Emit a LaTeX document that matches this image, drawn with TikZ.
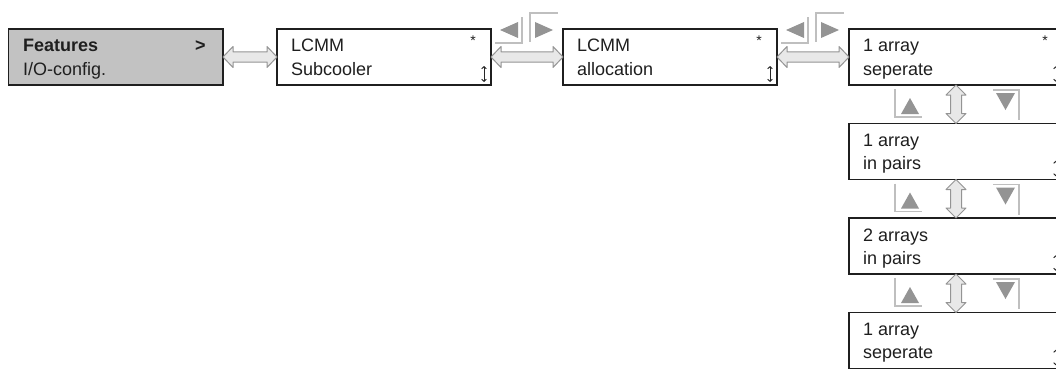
\documentclass[tikz,border=0pt]{standalone}
\usepackage{fontspec}
\setmainfont{Liberation Sans}
\usetikzlibrary{calc,arrows.meta}
\newcommand\dblH[2]{\path[dbl] let \p1=(#1), \p2=(#2) in
  (\x1,\y1) -- (\x1+10pt,\y1+10.5pt) -- (\x1+10pt,\y1+5pt) -- (\x2-10pt,\y1+5pt) -- (\x2-10pt,\y1+10.5pt) -- (\x2,\y1)
  -- (\x2-10pt,\y1-10.5pt) -- (\x2-10pt,\y1-5pt) -- (\x1+10pt,\y1-5pt) -- (\x1+10pt,\y1-10.5pt) -- cycle;}
\newcommand\dblV[2]{\path[dbl] let \p1=(#1), \p2=(#2) in
  (\x1,\y1) -- (\x1+10pt,\y1-10pt) -- (\x1+5.5pt,\y1-10pt) -- (\x1+5.5pt,\y2+10pt) -- (\x1+10pt,\y2+10pt) -- (\x1,\y2)
  -- (\x1-10pt,\y2+10pt) -- (\x1-5.5pt,\y2+10pt) -- (\x1-5.5pt,\y1-10pt) -- (\x1-10pt,\y1-10pt) -- cycle;}
\newcommand\lrkeys[1]{\begin{scope}[shift={(#1.north east)}]
  \draw[keyline] (4,14) -- (31,14) -- (31,-12);
  \fill[keytri] (9,1) -- (27,-7) -- (27,9) -- cycle;
  \draw[keyline] (39,13) -- (39,-16) -- (67,-16);
  \fill[keytri] (62,1) -- (44,-7) -- (44,9) -- cycle;
\end{scope}}
\newcommand\udkeys[1]{\begin{scope}[shift={(#1.south west)}]
  \draw[keyline] (46,4) -- (46,32) -- (73,32);
  \fill[keytri] (52,29) -- (70,29) -- (61,13) -- cycle;
  \draw[keyline] (144,5) -- (170,5) -- (170,35);
  \fill[keytri] (147,8) -- (166,8) -- (156.5,25) -- cycle;
\end{scope}}
\newcommand\boxmarks[2]{%
  \ifx#2y\node[starmark] at ($(#1.north east)+(-18,12)$) {*};\fi
  \draw[updown] ($(#1.north east)+(-7,37)$) -- ($(#1.north east)+(-7,53)$);}
\begin{document}
\begin{tikzpicture}[x=1pt,y=-1pt,
  menubox/.style={draw=black!88, line width=1.8pt, fill=white, minimum width=214pt, minimum height=56pt,
    inner sep=0pt, outer sep=0pt, anchor=north west},
  txt/.style={anchor=base west, inner sep=0pt, font=\fontsize{18}{22}\selectfont, text=black!88},
  dbl/.style={draw=black!42, fill=black!9, line width=1pt, line join=round},
  keyline/.style={draw=black!25, line width=1.4pt},
  keytri/.style={fill=black!42},
  starmark/.style={inner sep=0pt, font=\fontsize{14}{14}\selectfont, text=black!88},
  updown/.style={{Straight Barb[length=2.2pt,width=4.5pt]}-{Straight Barb[length=2.2pt,width=4.5pt]}, line width=0.9pt, draw=black!85}
]
\useasboundingbox (0,0) rectangle (1056,369);
\fill[white] (0,0) rectangle (1056,369);

\node[menubox, fill=black!24, minimum width=214.5pt] (f) at (8.5,29) {};
\node[menubox] (s) at (277,29) {};
\node[menubox] (a) at (563,29) {};
\node[menubox] (r1) at (849,29) {};
\node[menubox] (r2) at (849,123.5) {};
\node[menubox] (r3) at (849,218) {};
\node[menubox] (r4) at (849,312.5) {};

\node[txt, font=\fontsize{18}{22}\selectfont\bfseries] at ($(f.north west)+(14.5,23)$) {Features};
\node[txt, font=\fontsize{18}{22}\selectfont\bfseries] at ($(f.north west)+(186.5,23)$) {>};
\node[txt] at ($(f.north west)+(14.5,46)$) {I/O-config.};

\node[txt] at ($(s.north west)+(14,23)$) {LCMM};
\node[txt] at ($(s.north west)+(14,46)$) {Subcooler};
\node[txt] at ($(a.north west)+(14,23)$) {LCMM};
\node[txt] at ($(a.north west)+(14,46)$) {allocation};
\node[txt] at ($(r1.north west)+(14,23)$) {1 array};
\node[txt] at ($(r1.north west)+(14,46)$) {seperate};
\node[txt] at ($(r2.north west)+(14,23)$) {1 array};
\node[txt] at ($(r2.north west)+(14,46)$) {in pairs};
\node[txt] at ($(r3.north west)+(14,23)$) {2 arrays};
\node[txt] at ($(r3.north west)+(14,46)$) {in pairs};
\node[txt] at ($(r4.north west)+(14,23)$) {1 array};
\node[txt] at ($(r4.north west)+(14,46)$) {seperate};

\boxmarks{s}{y}
\boxmarks{a}{y}
\boxmarks{r1}{y}
\boxmarks{r2}{n}
\boxmarks{r3}{n}
\boxmarks{r4}{n}

\dblH{f.east}{s.west}
\dblH{s.east}{a.west}
\dblH{a.east}{r1.west}
\dblV{r1.south}{r2.north}
\dblV{r2.south}{r3.north}
\dblV{r3.south}{r4.north}

\lrkeys{s}
\lrkeys{a}
\udkeys{r1}
\udkeys{r2}
\udkeys{r3}
\end{tikzpicture}
\end{document}
